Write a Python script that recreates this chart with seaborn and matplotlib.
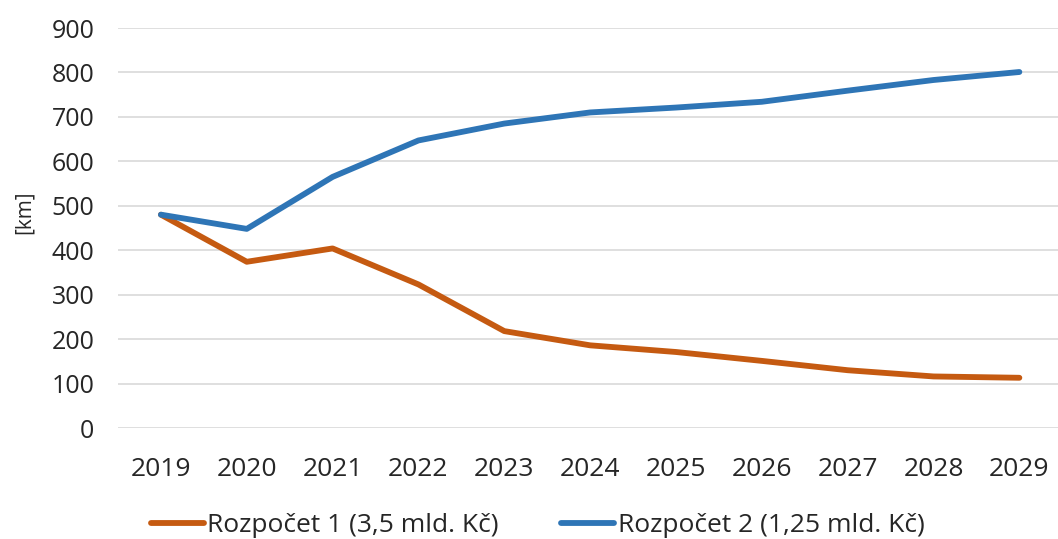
import matplotlib
matplotlib.use("Agg")
import matplotlib.pyplot as plt
import seaborn as sns
import pandas as pd

years = [2019, 2020, 2021, 2022, 2023, 2024, 2025, 2026, 2027, 2028, 2029]
rozpocet_1 = [480, 374, 404, 323, 218, 186, 171, 151, 130, 116, 113]
rozpocet_2 = [480, 448, 565, 647, 685, 710, 721, 734, 759, 783, 801]
series_names = ["Rozpočet 1 (3,5 mld. Kč)", "Rozpočet 2 (1,25 mld. Kč)"]
colors = ["#C55A11", "#2E75B6"]
y_ticks = [0, 100, 200, 300, 400, 500, 600, 700, 800, 900]

sns.set_theme(style="white")
plt.rcParams["font.family"] = ["Open Sans", "DejaVu Sans"]

df = pd.DataFrame({
    "rok": [str(y) for y in years] * 2,
    "km": rozpocet_1 + rozpocet_2,
    "serie": [series_names[0]] * len(years) + [series_names[1]] * len(years),
})

W, H = 1058, 539
fig = plt.figure(figsize=(W / 100, H / 100), dpi=100)
ax = fig.add_axes([118 / W, (H - 428) / H, (W - 118) / W, 400 / H])

sns.lineplot(data=df, x="rok", y="km", hue="serie", palette=colors,
             linewidth=4.2, ax=ax, legend=False, sort=False)
for line in ax.lines:
    line.set_solid_capstyle("round")
    line.set_solid_joinstyle("round")

ax.set_ylim(0, 900)
ax.set_xlim(-0.5, 10.45)
ax.set_yticks(y_ticks)
ax.set_yticklabels([str(v) for v in y_ticks], fontsize=18, color="#262626")
ax.yaxis.grid(True, color="#D9D9D9", linewidth=1.2)
ax.xaxis.grid(False)
for s in ax.spines.values():
    s.set_visible(False)
ax.tick_params(axis="y", length=0, pad=17)
ax.tick_params(axis="x", length=0, pad=21, labelsize=19, labelcolor="#262626")

ax.set_xlabel("")
ax.set_ylabel("[km]", fontsize=15, color="#262626")
ax.yaxis.set_label_coords(-83 / 940, 0.54)

handles = [plt.Line2D([], [], color=c, linewidth=4.2) for c in colors]
leg = fig.legend(handles, series_names, loc="center left",
                 bbox_to_anchor=(127 / W, 1 - 526 / H), ncol=2, frameon=False,
                 handlelength=2.0, handletextpad=0.15, columnspacing=2.35,
                 prop={"size": 19})
for t in leg.get_texts():
    t.set_color("#262626")

fig.savefig("out.png", dpi=100, facecolor="white")
